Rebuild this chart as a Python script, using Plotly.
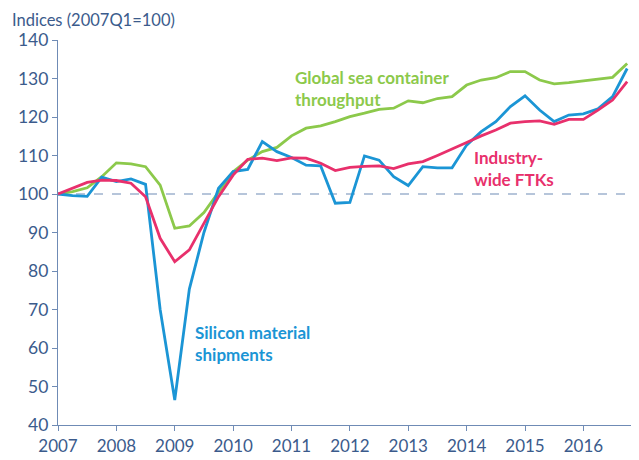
import plotly.graph_objects as go

years = [2007 + i / 4 for i in range(40)]

silicon = [100, 99.6, 99.4, 104.4, 103.2, 103.9, 102.5, 70, 46.5, 75.3,
           90.0, 101.5, 105.8, 106.4, 113.6, 111.0, 109.5, 107.5, 107.3, 97.6,
           97.8, 109.9, 108.8, 104.5, 102.2, 107.1, 106.8, 106.8, 112.7, 116.2,
           118.8, 122.7, 125.5, 121.8, 118.8, 120.5, 120.8, 122.1, 125.3, 132.6]

ftks = [100, 101.4, 103.0, 103.6, 103.5, 102.8, 99.3, 88.5, 82.4, 85.5,
        92.5, 99.3, 104.9, 109.0, 109.3, 108.7, 109.4, 109.3, 108.0, 106.1,
        106.9, 107.2, 107.3, 106.6, 107.8, 108.4, 110.0, 111.6, 113.4, 115.1,
        116.6, 118.4, 118.8, 119.0, 118.1, 119.4, 119.4, 121.8, 124.4, 129.2]

container = [100, 100.6, 101.6, 104.5, 108.1, 107.8, 107.1, 102.3, 91.1, 91.7,
             95.2, 100.6, 105.8, 108.8, 111.0, 112.1, 115.1, 117.1, 117.7, 118.8,
             120.1, 121.0, 122.0, 122.3, 124.2, 123.7, 124.8, 125.3, 128.3, 129.6,
             130.2, 131.8, 131.8, 129.6, 128.6, 128.9, 129.4, 129.8, 130.3, 133.9]

year_ticks = list(range(2007, 2017))
y_ticks = list(range(40, 141, 10))

GREEN = "#8cc94b"
BLUE = "#1b95d5"
PINK = "#e8306c"
AXIS = "#6f8bb5"
TEXT = "#3b5b8c"
FONT = "Lato"

fig = go.Figure()
fig.add_trace(go.Scatter(x=years, y=container, mode="lines",
                         line=dict(color=GREEN, width=2.8), showlegend=False))
fig.add_trace(go.Scatter(x=years, y=silicon, mode="lines",
                         line=dict(color=BLUE, width=2.8), showlegend=False))
fig.add_trace(go.Scatter(x=years, y=ftks, mode="lines",
                         line=dict(color=PINK, width=2.8), showlegend=False))

fig.add_shape(type="line", xref="paper", yref="y", x0=0, x1=1, y0=100, y1=100,
              line=dict(color=AXIS, width=1.2, dash="dash"), layer="below")

fig.add_annotation(x=2011.02, y=133.6, xref="x", yref="y",
                   text="<b>Global sea container<br>throughput</b>", showarrow=False,
                   xanchor="left", yanchor="top", align="left",
                   font=dict(family=FONT, size=17, color=GREEN))
fig.add_annotation(x=2014.1, y=112.6, xref="x", yref="y",
                   text="<b>Industry-<br>wide FTKs</b>", showarrow=False,
                   xanchor="left", yanchor="top", align="left",
                   font=dict(family=FONT, size=17, color=PINK))
fig.add_annotation(x=2009.32, y=67.2, xref="x", yref="y",
                   text="<b>Silicon material<br>shipments</b>", showarrow=False,
                   xanchor="left", yanchor="top", align="left",
                   font=dict(family=FONT, size=17, color=BLUE))

fig.add_annotation(x=0, y=1, xref="paper", yref="paper",
                   text="Indices (2007Q1=100)", showarrow=False,
                   xanchor="left", yanchor="bottom", yshift=8, xshift=-48,
                   font=dict(family=FONT, size=16.5, color=TEXT))

fig.update_layout(
    width=639, height=460,
    margin=dict(l=50, r=14, t=32, b=43),
    paper_bgcolor="white", plot_bgcolor="white",
    font=dict(family=FONT, size=17, color=TEXT),
    xaxis=dict(range=[2007, 2016.85], tickvals=year_ticks,
               ticktext=[str(y) for y in year_ticks],
               showgrid=False, zeroline=False, showline=True,
               linecolor=AXIS, linewidth=1.2, ticks="outside",
               tickcolor=AXIS, ticklen=5, tickfont=dict(size=17, color=TEXT),
               automargin=False),
    yaxis=dict(range=[40, 140], tickvals=y_ticks,
               showgrid=False, zeroline=False, showline=True,
               linecolor=AXIS, linewidth=1.2, ticks="outside",
               tickcolor=AXIS, ticklen=5, tickfont=dict(size=17.5, color=TEXT),
               automargin=False),
)

fig.write_html("out.html")
